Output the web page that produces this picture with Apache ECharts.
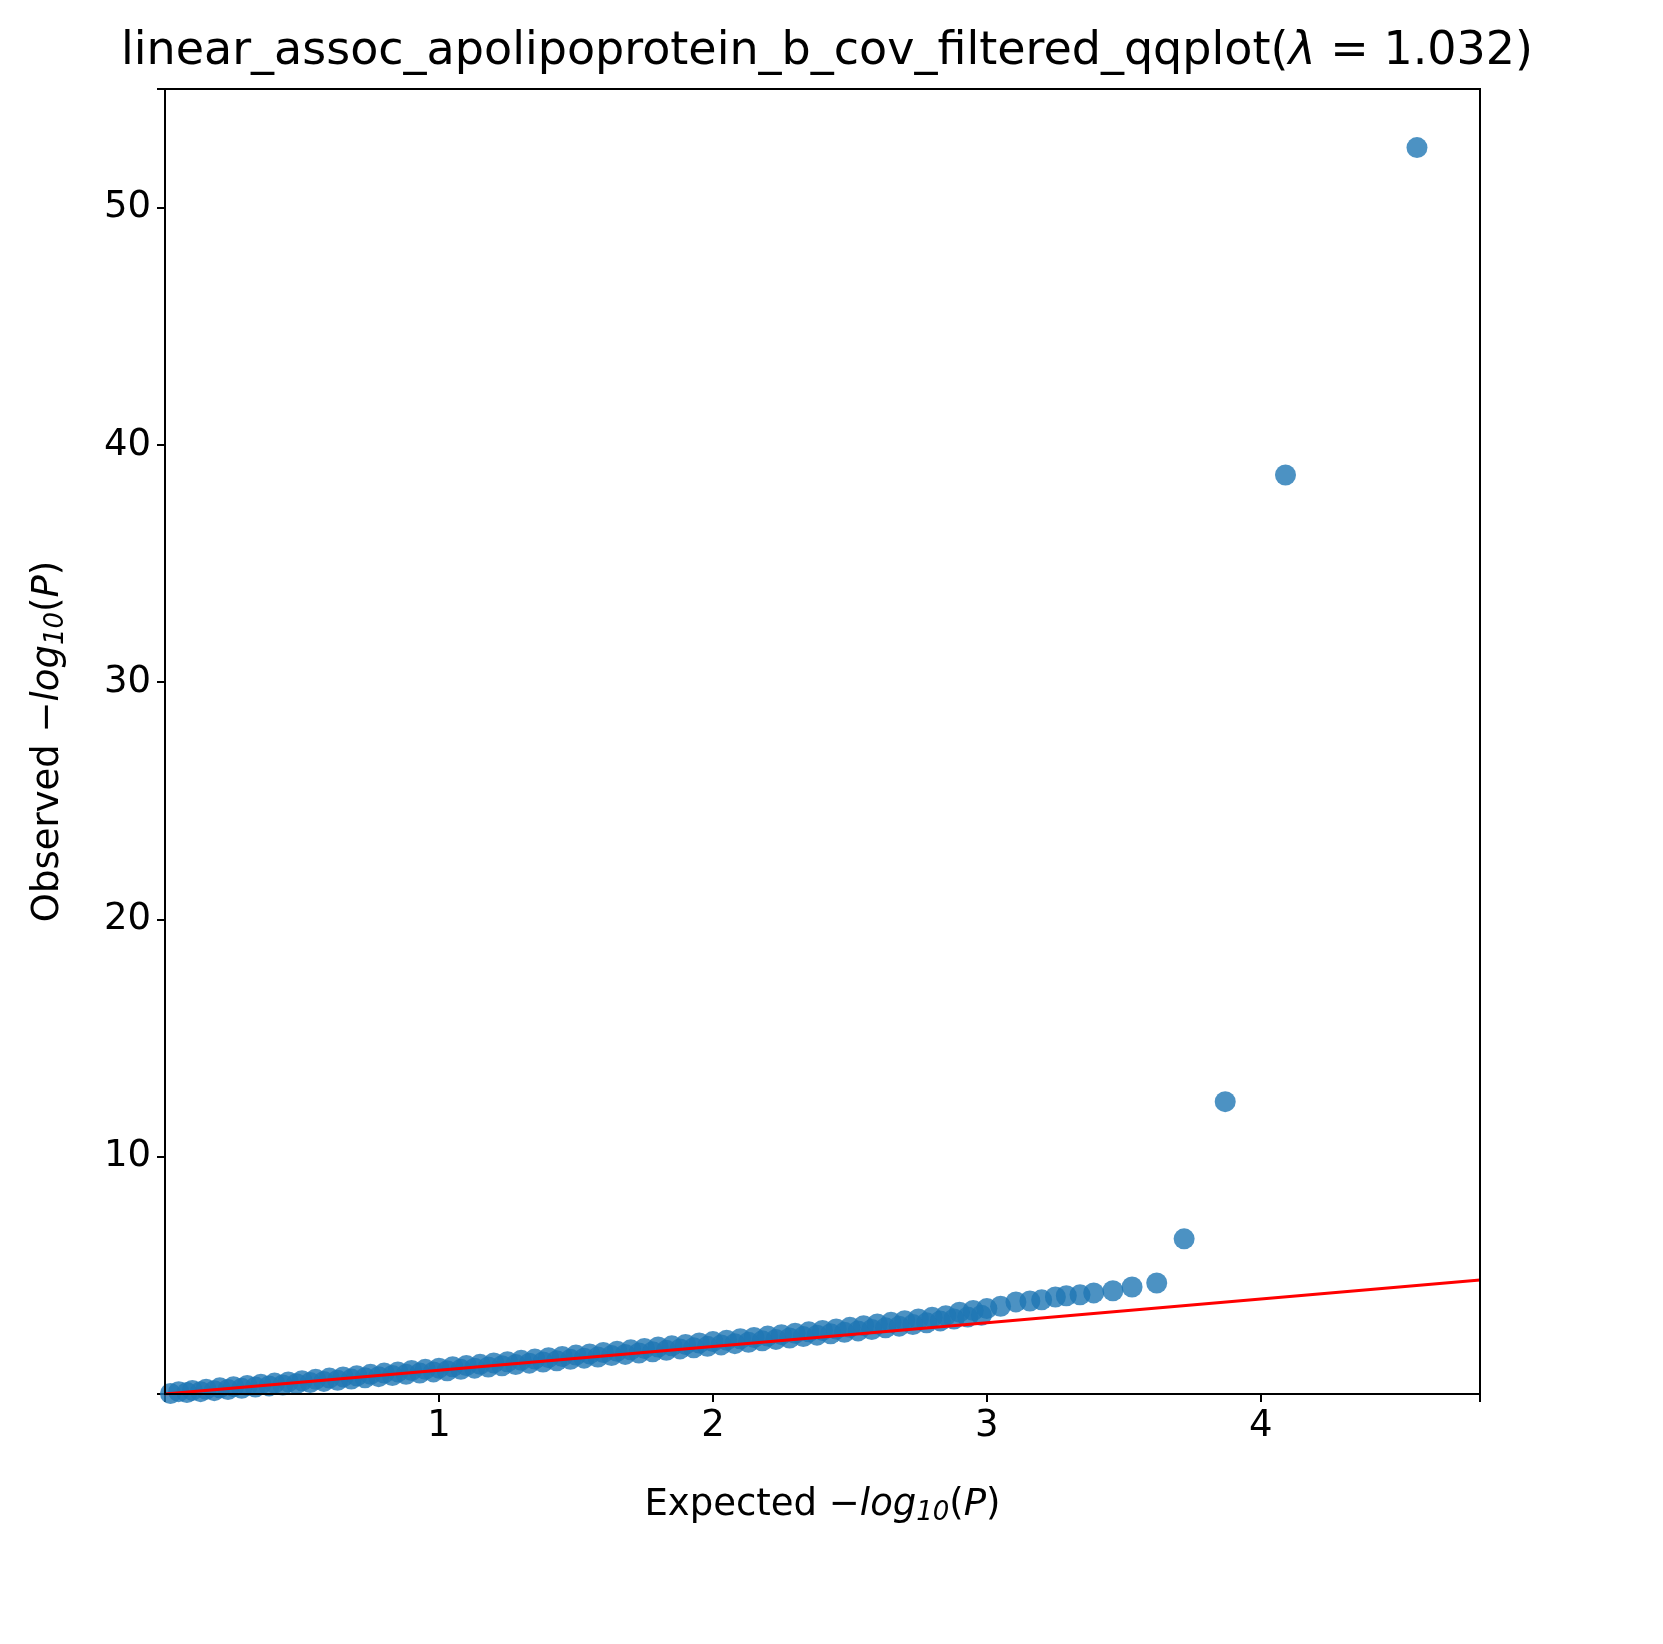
<!DOCTYPE html>
<html><head><meta charset="utf-8">
<script src="https://cdn.jsdelivr.net/npm/echarts@6/dist/echarts.min.js"></script>
<style>html,body{margin:0;padding:0;background:#fff}#main{width:1663px;height:1644px}</style>
</head><body><div id="main"></div>
<script>
// upper edge of the dense band plus the tail
var expected = [0.05,0.10,0.15,0.20,0.25,0.30,0.35,0.40,0.45,0.50,0.55,0.60,0.65,0.70,0.75,0.80,0.85,0.90,0.95,1.00,
  1.05,1.10,1.15,1.20,1.25,1.30,1.35,1.40,1.45,1.50,1.55,1.60,1.65,1.70,1.75,1.80,1.85,1.90,1.95,2.00,
  2.05,2.10,2.15,2.20,2.25,2.30,2.35,2.40,2.45,2.50,2.55,2.60,2.65,2.70,2.75,2.80,2.85,2.90,2.95,3.00,3.05,
  3.106,3.157,3.20,3.25,3.29,3.34,3.39,3.46,3.53,3.62,3.72,3.87,4.09,4.57];
var observed = [0.10,0.15,0.20,0.26,0.31,0.36,0.41,0.46,0.51,0.56,0.62,0.67,0.72,0.77,0.83,0.88,0.93,0.99,1.04,1.09,
  1.15,1.20,1.25,1.31,1.36,1.42,1.47,1.53,1.58,1.64,1.69,1.75,1.80,1.86,1.92,1.98,2.03,2.09,2.15,2.21,
  2.27,2.33,2.38,2.44,2.50,2.56,2.62,2.68,2.74,2.81,2.88,2.95,3.02,3.09,3.16,3.23,3.30,3.45,3.52,3.60,3.70,
  3.88,3.92,3.97,4.09,4.14,4.18,4.26,4.35,4.51,4.68,6.54,12.32,38.73,52.53];
// lower edge of the dense band
var expectedLow = [0.02,0.08,0.13,0.18,0.23,0.28,0.33,0.38,0.43,0.48,0.53,0.58,0.63,0.68,0.73,0.78,0.83,0.88,0.93,0.98,
  1.03,1.08,1.13,1.18,1.23,1.28,1.33,1.38,1.43,1.48,1.53,1.58,1.63,1.68,1.73,1.78,1.83,1.88,1.93,1.98,
  2.03,2.08,2.13,2.18,2.23,2.28,2.33,2.38,2.43,2.48,2.53,2.58,2.63,2.68,2.73,2.78,2.83,2.88,2.93,2.98];
var observedLow = [0.02,0.06,0.10,0.14,0.19,0.24,0.29,0.34,0.38,0.43,0.48,0.53,0.58,0.63,0.68,0.73,0.78,0.83,0.88,0.93,
  0.98,1.04,1.09,1.14,1.19,1.24,1.30,1.35,1.40,1.46,1.51,1.56,1.62,1.67,1.73,1.78,1.84,1.90,1.95,2.01,
  2.07,2.12,2.18,2.24,2.30,2.36,2.42,2.48,2.54,2.60,2.66,2.72,2.79,2.86,2.93,3.00,3.08,3.16,3.24,3.32];
var diagonal = [0, 4.8];
var xTicks = [1, 2, 3, 4];
var yTicks = [10, 20, 30, 40, 50];

var chart = echarts.init(document.getElementById('main'));
var pts = expected.map(function (x, i) { return [x, observed[i]]; });
var ptsLow = expectedLow.map(function (x, i) { return [x, observedLow[i]]; });
var font = 'DejaVu Sans';
var ax = {color: '#000', fontSize: 37, fontFamily: font};
var nameRich = {
  it: {fontStyle: 'italic', fontSize: 37, fontFamily: font, color: '#000'},
  sub: {fontStyle: 'italic', fontSize: 26, fontFamily: font, color: '#000', padding: [16, 0, 0, 0]},
  n: {fontSize: 37, fontFamily: font, color: '#000'}
};
var dot = {type: 'scatter', symbolSize: 21, itemStyle: {color: '#1f77b4', opacity: 0.8}, z: 2};
var tick = {show: true, length: 8, lineStyle: {color: '#000', width: 2}};
chart.setOption({
  animation: false,
  title: {
    text: 'linear_assoc_apolipoprotein_b_cov_filtered_qqplot({i|λ} = 1.032)',
    left: 822, top: 24, textAlign: 'center',
    textStyle: {fontSize: 46, fontWeight: 'normal', fontFamily: font, color: '#000',
      rich: {i: {fontStyle: 'italic', fontSize: 46, fontFamily: font}}}
  },
  grid: {left: 165, right: 183, top: 89, bottom: 250, show: true, borderColor: '#000', borderWidth: 2, z: 10},
  xAxis: {
    type: 'value', min: 0, max: 4.8, interval: 1,
    name: '{n|Expected −}{it|log}{sub|10}{n|(}{it|P}{n|)}',
    nameLocation: 'middle', nameGap: 90, nameTextStyle: {rich: nameRich},
    axisLine: {onZero: false, lineStyle: {color: '#000', width: 2}},
    axisTick: tick,
    axisLabel: Object.assign({margin: 14, formatter: function (v) { return xTicks.indexOf(v) >= 0 ? String(v) : ''; }}, ax),
    splitLine: {show: false}
  },
  yAxis: {
    type: 'value', min: 0, max: 55, interval: 10,
    name: '{n|Observed −}{it|log}{sub|10}{n|(}{it|P}{n|)}',
    nameLocation: 'middle', nameGap: 96, nameRotate: 90, nameTextStyle: {rich: nameRich},
    axisLine: {onZero: false, lineStyle: {color: '#000', width: 2}},
    axisTick: tick,
    axisLabel: Object.assign({margin: 14, formatter: function (v) { return yTicks.indexOf(v) >= 0 ? String(v) : ''; }}, ax),
    splitLine: {show: false}
  },
  series: [
    Object.assign({data: ptsLow}, dot),
    Object.assign({data: pts}, dot),
    {type: 'line', data: diagonal.map(function (v) { return [v, v]; }), symbol: 'none',
      lineStyle: {color: '#ff0000', width: 3}, z: 3}
  ]
});
</script></body></html>
